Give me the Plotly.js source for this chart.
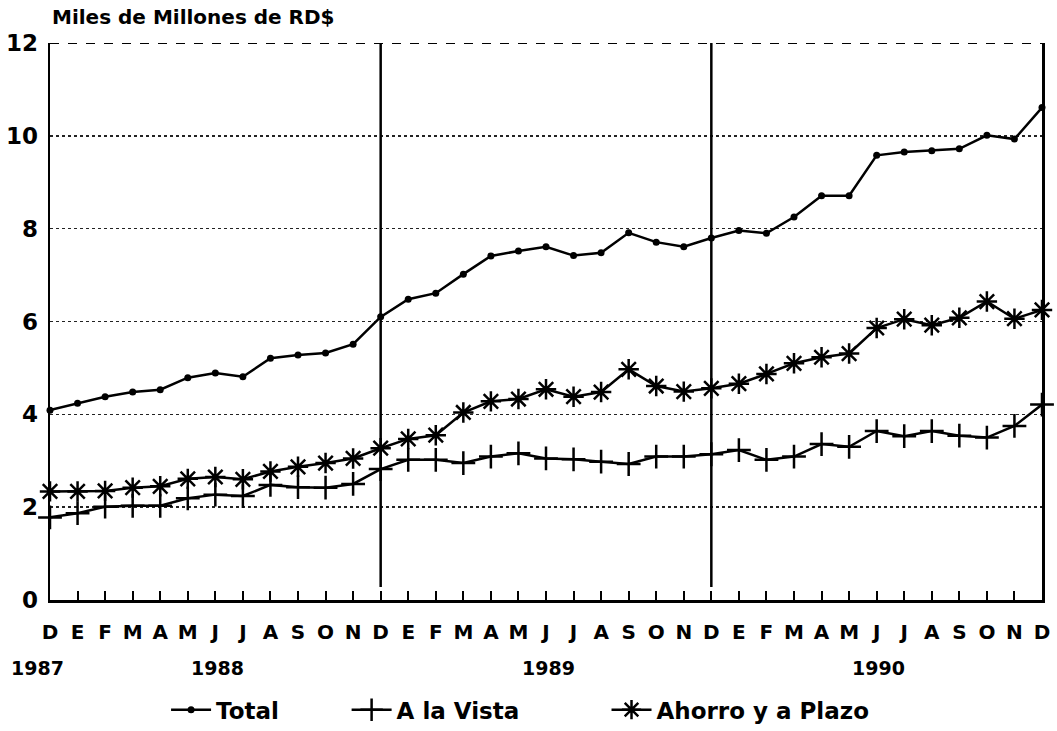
<!DOCTYPE html>
<html>
<head>
<meta charset="utf-8">
<script src="https://cdn.plot.ly/plotly-3.0.1.min.js"></script>
<style>
html,body{margin:0;padding:0;background:#fff;}
#chart{width:1057px;height:731px;}
</style>
</head>
<body>
<div id="chart"></div>
<script>
// Months from December 1987 to December 1990
const monthLetters = ["D","E","F","M","A","M","J","J","A","S","O","N",
                      "D","E","F","M","A","M","J","J","A","S","O","N",
                      "D","E","F","M","A","M","J","J","A","S","O","N","D"];
const yearLabels = ["1987","1988","1989","1990"];
const yearIndex = [0, 6, 18, 30];
const yearBreaks = [12, 24];

const total = [4.09,4.24,4.38,4.48,4.53,4.79,4.89,4.81,5.21,5.28,5.32,5.51,
               6.10,6.48,6.61,7.02,7.41,7.52,7.61,7.42,7.48,7.91,7.71,7.61,
               7.80,7.96,7.90,8.25,8.71,8.71,9.58,9.65,9.68,9.72,10.01,9.93,10.61];
const aLaVista = [1.78,1.87,2.01,2.03,2.03,2.19,2.27,2.24,2.48,2.43,2.42,2.50,
                  2.82,3.02,3.02,2.95,3.09,3.16,3.05,3.03,2.98,2.93,3.09,3.09,
                  3.14,3.23,3.02,3.09,3.36,3.30,3.64,3.53,3.64,3.54,3.50,3.75,4.21];
const ahorroPlazo = [2.34,2.34,2.35,2.42,2.45,2.61,2.65,2.60,2.77,2.87,2.95,3.05,
                     3.27,3.47,3.55,4.04,4.28,4.33,4.54,4.38,4.48,4.97,4.61,4.49,
                     4.56,4.66,4.87,5.10,5.23,5.31,5.86,6.05,5.92,6.08,6.43,6.06,6.25];

const idx = monthLetters.map((_, i) => i);
const FONT = "DejaVu Sans, Arial, sans-serif";

const traces = [
  {x: idx, y: total, name: "Total", type: "scatter", mode: "lines+markers",
   legend: "legend",
   line: {color: "#000", width: 2.5},
   marker: {symbol: "circle", size: 7, color: "#000"}, cliponaxis: false},
  {x: idx, y: aLaVista, name: "A la Vista", type: "scatter", mode: "lines+markers",
   legend: "legend2",
   line: {color: "#000", width: 2.5},
   marker: {symbol: "cross-thin-open", size: 17, color: "#000", line: {color: "#000", width: 2.5}}, cliponaxis: false},
  {x: idx, y: ahorroPlazo, name: "Ahorro y a Plazo", type: "scatter", mode: "lines+markers",
   legend: "legend3",
   line: {color: "#000", width: 2.5},
   marker: {symbol: "asterisk-open", size: 17, color: "#000", line: {color: "#000", width: 2.5}}, cliponaxis: false}
];

const shapes = yearBreaks.map(b => ({
  type: "line", xref: "x", yref: "y", x0: b, x1: b, y0: 0.28, y1: 12,
  line: {color: "#000", width: 2.5}
}));
shapes.push({type: "line", xref: "paper", yref: "y", x0: 0, x1: 1, y0: 12, y1: 12,
             line: {color: "#000", width: 2, dash: "dash"}});

const annotations = yearLabels.map((t, i) => ({
  text: t, x: yearIndex[i], xref: "x", y: 0, yref: "paper",
  yanchor: "middle", xanchor: "center", yshift: -68, xshift: i === 0 ? -13 : 2,
  showarrow: false, font: {family: FONT, size: 19, weight: "bold", color: "#000"}
}));

function legendAt(xPaper) {
  return {orientation: "h", x: xPaper, xanchor: "left", y: -0.197, yanchor: "middle",
          font: {family: FONT, size: 23, weight: "bold", color: "#000"},
          itemwidth: 40, bgcolor: "rgba(0,0,0,0)"};
}

const layout = {
  width: 1057, height: 731,
  margin: {l: 50, r: 15, t: 43, b: 131, autoexpand: false},
  paper_bgcolor: "#fff", plot_bgcolor: "#fff",
  showlegend: true,
  title: {text: "Miles de Millones de RD$", x: 52/1057, xanchor: "left",
          y: 1 - 17/731, yanchor: "middle",
          font: {family: FONT, size: 20, weight: "bold", color: "#000"}},
  xaxis: {range: [0, 36], tickvals: idx, ticktext: monthLetters,
          ticks: "inside", ticklen: 9, tickwidth: 2, tickcolor: "#000",
          showline: true, linecolor: "#000", linewidth: 2.5, mirror: false,
          showgrid: false, zeroline: false, ticklabelstandoff: 12,
          tickfont: {family: FONT, size: 20, weight: "bold", color: "#000"}},
  yaxis: {range: [0, 12], tickvals: [0,2,4,6,8,10,12],
          ticks: "", showline: true, linecolor: "#000", linewidth: 2.5, mirror: true,
          showgrid: true, gridcolor: "#222", gridwidth: 1.5, griddash: "dot",
          zeroline: false, ticklabelstandoff: 5,
          tickfont: {family: FONT, size: 23, weight: "bold", color: "#000"}},
  legend: legendAt(0.117),
  legend2: legendAt(0.299),
  legend3: legendAt(0.561),
  shapes: shapes,
  annotations: annotations
};

Plotly.newPlot("chart", traces, layout, {displayModeBar: false, staticPlot: true});
</script>
</body>
</html>
